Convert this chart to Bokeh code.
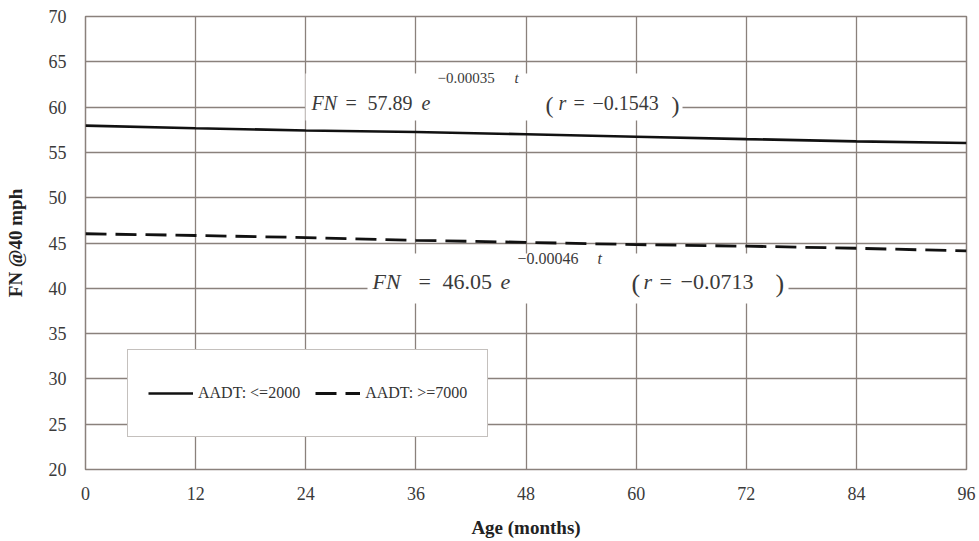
from bokeh.plotting import figure
from bokeh.models import Label, BoxAnnotation, Legend, LegendItem, FixedTicker
from bokeh.embed import file_html
from bokeh.resources import INLINE

# Pavement friction number versus age, two traffic-volume groups
months = [0, 12, 24, 36, 48, 60, 72, 84, 96]
fn_low_aadt = [57.95, 57.67, 57.42, 57.25, 57.00, 56.73, 56.47, 56.22, 56.03]
fn_high_aadt = [46.02, 45.83, 45.60, 45.30, 45.07, 44.82, 44.65, 44.42, 44.12]

x_ticks = [0, 12, 24, 36, 48, 60, 72, 84, 96]
y_ticks = [20, 25, 30, 35, 40, 45, 50, 55, 60, 65, 70]

series_labels = ["AADT: <=2000", "AADT: >=7000"]

GRID = "#8a817c"
SERIF = "Liberation Serif"
INK = "#3a3a3a"

W, H = 979, 541
LEFT, RIGHT, TOP, BOTTOM = 85, 13, 16, 72
FW, FH = W - LEFT - RIGHT, H - TOP - BOTTOM

p = figure(width=W, height=H, x_range=(0, 96), y_range=(20, 70),
           output_backend="svg", toolbar_location=None,
           min_border_left=LEFT, min_border_right=RIGHT,
           min_border_top=TOP, min_border_bottom=BOTTOM)
p.background_fill_color = "white"
p.border_fill_color = "white"
p.outline_line_color = GRID
p.outline_line_width = 1.5

p.xaxis.ticker = FixedTicker(ticks=x_ticks)
p.yaxis.ticker = FixedTicker(ticks=y_ticks)
for ax in (p.xaxis, p.yaxis):
    ax.axis_line_color = None
    ax.major_tick_line_color = None
    ax.minor_tick_line_color = None
    ax.major_label_text_font = SERIF
    ax.major_label_text_font_size = "18px"
    ax.major_label_text_color = INK
    ax.axis_label_text_font = SERIF
    ax.axis_label_text_font_style = "bold"
    ax.axis_label_text_font_size = "19px"
    ax.axis_label_text_color = "#222222"
p.xaxis.axis_label = "Age (months)"
p.yaxis.axis_label = "FN @40 mph"
p.xaxis.major_label_standoff = 11
p.xaxis.axis_label_standoff = 14
p.yaxis.major_label_standoff = 13
p.yaxis.axis_label_standoff = 20

for g in (p.xgrid, p.ygrid):
    g.grid_line_color = GRID
    g.grid_line_width = 1.3

r_low = p.line(months, fn_low_aadt, line_color="#111111", line_width=2.6)
r_high = p.line(months, fn_high_aadt, line_color="#111111", line_width=2.8,
                line_dash="21 9")


def dx(px):
    return (px - LEFT) / FW * 96


def dy(py):
    return 70 - (py - TOP) / FH * 50


# white panels behind the fitted-equation texts
for l, r, t, b in [(305, 682, 73, 120), (367, 788, 253, 303)]:
    p.add_layout(BoxAnnotation(left=dx(l), right=dx(r), top=dy(t), bottom=dy(b),
                               fill_color="white", fill_alpha=1.0,
                               line_color=None))

eq_parts = [
    ("FN", 311, 102, 20, "italic"),
    ("=", 345, 102, 20, "normal"),
    ("57.89", 367, 102, 20, "normal"),
    ("e", 421, 102, 20, "italic"),
    ("\u22120.00035", 437, 77, 15, "normal"),
    ("t", 514, 77, 15, "italic"),
    ("(", 545, 104, 24, "normal"),
    ("r", 558, 102, 20, "italic"),
    ("=", 573, 102, 20, "normal"),
    ("\u22120.1543", 592, 102, 20, "normal"),
    (")", 671, 104, 24, "normal"),
    ("FN", 372, 281, 22, "italic"),
    ("=", 418, 281, 22, "normal"),
    ("46.05", 442, 281, 22, "normal"),
    ("e", 500, 281, 22, "italic"),
    ("\u22120.00046", 517, 258, 16, "normal"),
    ("t", 597, 258, 16, "italic"),
    ("(", 631, 283, 26, "normal"),
    ("r", 643, 281, 22, "italic"),
    ("=", 659, 281, 22, "normal"),
    ("\u22120.0713", 680, 281, 22, "normal"),
    (")", 775, 283, 26, "normal"),
]
for txt, px, py, size, style in eq_parts:
    p.add_layout(Label(x=dx(px), y=dy(py), text=txt, text_font=SERIF,
                       text_font_size=f"{size}px", text_font_style=style,
                       text_color=INK, text_baseline="alphabetic",
                       text_align="left"))

legend = Legend(items=[LegendItem(label=series_labels[0], renderers=[r_low]),
                       LegendItem(label=series_labels[1], renderers=[r_high])],
                location=(127 - LEFT, 32), orientation="horizontal",
                margin=0, padding=20, spacing=15, glyph_width=45,
                glyph_height=46, label_height=46, label_standoff=5,
                label_text_font=SERIF, label_text_font_size="16px",
                label_text_color="#333333",
                border_line_color=GRID, border_line_width=1.3,
                background_fill_color="white", background_fill_alpha=1.0)
p.add_layout(legend)

open("out.html", "w").write(file_html(p, INLINE))
